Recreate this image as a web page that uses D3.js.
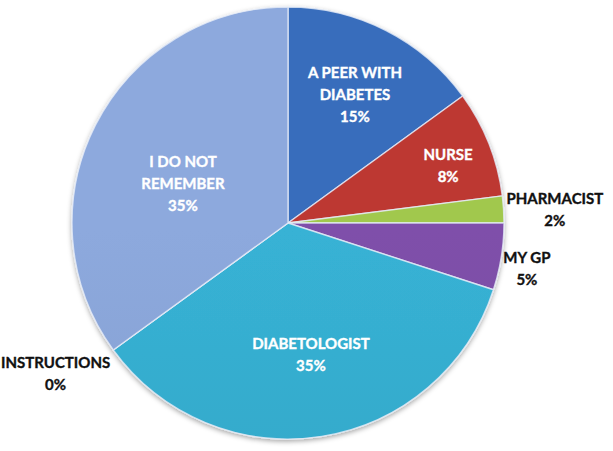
<!DOCTYPE html>
<html>
<head>
<meta charset="utf-8">
<script src="https://cdn.jsdelivr.net/npm/d3@7/dist/d3.min.js"></script>
<style>
  html, body { margin: 0; padding: 0; background: #ffffff; }
  svg { display: block; }
</style>
</head>
<body>
<svg id="chart" width="613" height="451"></svg>
<script>
// ---- data ----
const categories = ["A PEER WITH DIABETES", "NURSE", "PHARMACIST", "MY GP", "DIABETOLOGIST", "INSTRUCTIONS", "I DO NOT REMEMBER"];
const labelLines = [["A PEER WITH", "DIABETES"], ["NURSE"], ["PHARMACIST"], ["MY GP"], ["DIABETOLOGIST"], ["INSTRUCTIONS"], ["I DO NOT", "REMEMBER"]];
const values = [15, 8, 2, 5, 35, 0, 35];
const colors = ["#3668b4", "#b53531", "#9ac04a", "#7a4da3", "#35abcc", "#f79646", "#87a2d4"];

// ---- label layout (radius fraction, angle shift in degrees, fill) ----
const labelRadius = [0.669, 0.787, 1.237, 1.126, 0.618, 1.283, 0.519];
const labelShift = [0.6, 2.0, 0.7, 1.8, -0.9, 3.0, -6.6];
const labelInside = [true, true, false, false, true, false, true];

const W = 613, H = 451;
const cx = 288, cy = 223, R = 216;
const svg = d3.select("#chart");
const defs = svg.append("defs");

colors.forEach((c, i) => {
  const base = d3.color(c);
  const g = defs.append("linearGradient")
    .attr("id", "grad" + i)
    .attr("gradientUnits", "userSpaceOnUse")
    .attr("x1", 0).attr("y1", cy - R).attr("x2", 0).attr("y2", cy + R);
  g.append("stop").attr("offset", 0).attr("stop-color", base.brighter(0.12).formatHex());
  g.append("stop").attr("offset", 0.5).attr("stop-color", base.formatHex());
  g.append("stop").attr("offset", 0.9).attr("stop-color", base.darker(0.75).formatHex());
  g.append("stop").attr("offset", 1).attr("stop-color", base.darker(1.3).formatHex());
});

const shadow = defs.append("filter").attr("id", "shadow")
  .attr("x", "-10%").attr("y", "-10%").attr("width", "120%").attr("height", "120%");
shadow.append("feDropShadow")
  .attr("dx", 0).attr("dy", 2).attr("stdDeviation", 2.5)
  .attr("flood-color", "#000").attr("flood-opacity", 0.35);

const pie = d3.pie().sort(null).value(d => d)(values);
const arc = d3.arc().innerRadius(0).outerRadius(R);

const g = svg.append("g").attr("transform", `translate(${cx},${cy})`);

g.append("g").attr("filter", "url(#shadow)")
  .selectAll("path.slice")
  .data(pie)
  .join("path")
  .attr("class", "slice")
  .attr("d", arc)
  .attr("fill", (d, i) => `url(#grad${i})`)
  .attr("stroke", "rgba(230,236,248,0.8)")
  .attr("stroke-width", 1.4)
  .attr("stroke-linejoin", "round");

const lineH = 22;
g.selectAll("g.lbl")
  .data(pie)
  .join("g")
  .attr("class", "lbl")
  .each(function (d, i) {
    const mid = (d.startAngle + d.endAngle) / 2 + labelShift[i] * Math.PI / 180;
    const r = labelRadius[i] * R;
    const x = Math.sin(mid) * r;
    const y = -Math.cos(mid) * r;
    const lines = labelLines[i].concat([values[i] + "%"]);
    const n = lines.length;
    const first = y - (n - 1) * lineH / 2 + 5.5;
    const col = labelInside[i] ? "#ffffff" : "#111111";
    const t = d3.select(this).append("text")
      .attr("text-anchor", "middle")
      .attr("font-family", "Lato, 'Open Sans', sans-serif")
      .attr("font-weight", "bold")
      .attr("font-size", 15)
      .attr("fill", col)
      .attr("stroke", col)
      .attr("stroke-width", 0.35);
    lines.forEach((s, k) => {
      t.append("tspan").attr("x", x).attr("y", first + k * lineH).text(s);
    });
  });
</script>
</body>
</html>
